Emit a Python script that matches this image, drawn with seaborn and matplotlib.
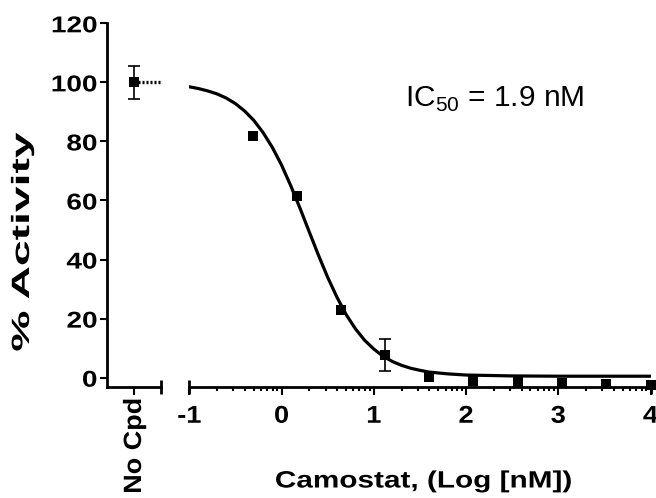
import matplotlib
matplotlib.use("Agg")
import matplotlib.pyplot as plt
import matplotlib.transforms as mtransforms
import matplotlib.patheffects as pe
import numpy as np
import seaborn as sns

# dose points (log nM) and % activity
log_conc = [-0.31, 0.17, 0.65, 1.12, 1.60, 2.08, 2.56, 3.04, 3.52, 4.00]
activity = [82.0, 61.5, 23.0, 7.7, 0.2, -1.2, -1.3, -1.8, -2.1, -2.6]
activity_sd = [0, 0, 0, 5.3, 0, 0, 0, 0, 0, 0]

# no compound control
control_label = "No Cpd"
control_mean = 100.0
control_sd = 5.6

# fitted curve
fit_x = [-1.0, -0.9, -0.8, -0.7, -0.6, -0.5, -0.4, -0.3, -0.2, -0.1,
         0.0, 0.1, 0.2, 0.3, 0.4, 0.5, 0.6, 0.7, 0.8, 0.9,
         1.0, 1.1, 1.2, 1.3, 1.4, 1.5, 1.6, 1.8, 2.0, 2.5, 3.0, 4.0]
fit_y = [98.5, 97.9, 97.1, 96.1, 94.7, 92.8, 90.3, 87.1, 83.0, 78.0,
         72.0, 65.0, 57.4, 49.4, 41.5, 34.0, 27.3, 21.4, 16.6, 12.7,
         9.7, 7.3, 5.5, 4.2, 3.2, 2.5, 1.9, 1.3, 0.9, 0.6, 0.5, 0.5]

x_ticks = [-1, 0, 1, 2, 3, 4]
y_ticks = [0, 20, 40, 60, 80, 100, 120]
ic50_label = r"IC$_{\mathrm{50}}$ = 1.9 nM"


class Stretch(pe.AbstractPathEffect):
    """Widen glyphs along the text direction (the export has wide text)."""
    def __init__(self, sx, anchor='center'):
        super().__init__()
        self.sx = sx
        self.anchor = anchor

    def draw_path(self, renderer, gc, tpath, affine, rgbFace=None):
        ext = tpath.get_extents()
        x0 = {'left': ext.x0, 'right': ext.x1}.get(self.anchor, (ext.x0 + ext.x1) / 2)
        st = mtransforms.Affine2D().translate(-x0, 0).scale(self.sx, 1).translate(x0, 0)
        renderer.draw_path(gc, tpath, st + affine, rgbFace)


sns.set_style("ticks")
plt.rcParams['font.family'] = ['Liberation Sans', 'DejaVu Sans']
plt.rcParams['mathtext.fontset'] = 'custom'
plt.rcParams['mathtext.rm'] = 'Liberation Sans'
for k in ['text.color', 'axes.edgecolor', 'axes.labelcolor', 'xtick.color', 'ytick.color']:
    plt.rcParams[k] = 'black'

W, H = 656, 498
fig = plt.figure(figsize=(6.56, 4.98), dpi=100)
bottom = 1 - 386.7 / H
height = (386.7 - 23.3) / H
ax0 = fig.add_axes([107 / W, bottom, 54 / W, height])
ax = fig.add_axes([189.3 / W, bottom, (650.5 - 189.3) / W, height])

ylim = (-3.05, 120)
lw_axis = 2.0

# --- control panel
ax0.errorbar([1], [control_mean], yerr=[control_sd], fmt='none', ecolor='black',
             elinewidth=1.2, capsize=4.5, capthick=1.2)
ax0.hlines(control_mean, 1, 2, colors='black', linestyles=(0, (0.6, 0.6)), lw=2.4)
sns.scatterplot(x=[1], y=[control_mean], marker='s', s=55, color='black',
                edgecolor='black', linewidth=0, ax=ax0, zorder=3)
ax0.set_xlim(0, 2)
ax0.set_ylim(*ylim)
ax0.set_yticks(y_ticks)
ax0.set_yticklabels([str(v) for v in y_ticks], fontsize=16.5, fontweight='bold')
ax0.set_xticks([1])
ax0.set_xticklabels([control_label], rotation=90, fontsize=18, va='top')
for s in ['top', 'right']:
    ax0.spines[s].set_visible(False)
for s in ['left', 'bottom']:
    ax0.spines[s].set_linewidth(lw_axis)
ax0.tick_params(axis='y', length=5, width=1.5, pad=2)
ax0.tick_params(axis='x', length=6, width=1.5, pad=2)
ax0.set_xlabel('')
ax0.set_ylabel('')
for t in ax0.get_yticklabels():
    t.set_path_effects([Stretch(1.22, 'right')])
for t in ax0.get_xticklabels():
    t.set_fontweight('bold')
    t.set_path_effects([Stretch(1.08, 'right')])

# --- dose-response panel
sns.lineplot(x=fit_x, y=fit_y, ax=ax, color='black', lw=2.3)
err_idx = [i for i, e in enumerate(activity_sd) if e > 0]
ax.errorbar([log_conc[i] for i in err_idx], [activity[i] for i in err_idx],
            yerr=[activity_sd[i] for i in err_idx], fmt='none', ecolor='black',
            elinewidth=1.2, capsize=4.5, capthick=1.2)
sns.scatterplot(x=log_conc, y=activity, marker='s', s=55, color='black',
                edgecolor='black', linewidth=0, ax=ax, zorder=3, clip_on=False)
ax.set_xlim(-1, 4)
ax.set_ylim(*ylim)
ax.set_xticks(x_ticks)
ax.set_xticklabels([str(v) for v in x_ticks], fontsize=17.5, fontweight='bold')
minor = [d + np.log10(k) for d in range(-1, 4) for k in range(2, 10)]
ax.set_xticks(minor, minor=True)
ax.set_yticks([])
for s in ['top', 'right', 'left']:
    ax.spines[s].set_visible(False)
ax.spines['bottom'].set_linewidth(lw_axis)
ax.tick_params(axis='x', which='major', length=6, width=1.5, pad=7)
ax.tick_params(axis='x', which='minor', length=3.2, width=1.5)
ax.set_xlabel('')
ax.set_ylabel('')
for t in ax.get_xticklabels():
    t.set_path_effects([Stretch(1.12)])

# end caps on the x axes (Prism style)
cap = 7 / (386.7 - 23.3)
for a, xs in [(ax, [-1, 4]), (ax0, [2])]:
    trans = mtransforms.blended_transform_factory(a.transData, a.transAxes)
    for xv in xs:
        a.plot([xv, xv], [-cap, cap], color='black', lw=2.0, transform=trans,
               clip_on=False, solid_capstyle='butt')

fig.text(405 / W, 1 - 107 / H, ic50_label, fontsize=21.5, va='baseline', ha='left')
fig.text(22 / W, 1 - 242 / H, '% Activity', rotation=90, ha='center', va='center',
         fontsize=18, fontweight='bold', path_effects=[Stretch(1.85)])
fig.text(424 / W, 1 - 481 / H, 'Camostat, (Log [nM])', ha='center', va='center',
         fontsize=17, fontweight='bold', path_effects=[Stretch(1.26)])

fig.savefig('out.png', dpi=100)
